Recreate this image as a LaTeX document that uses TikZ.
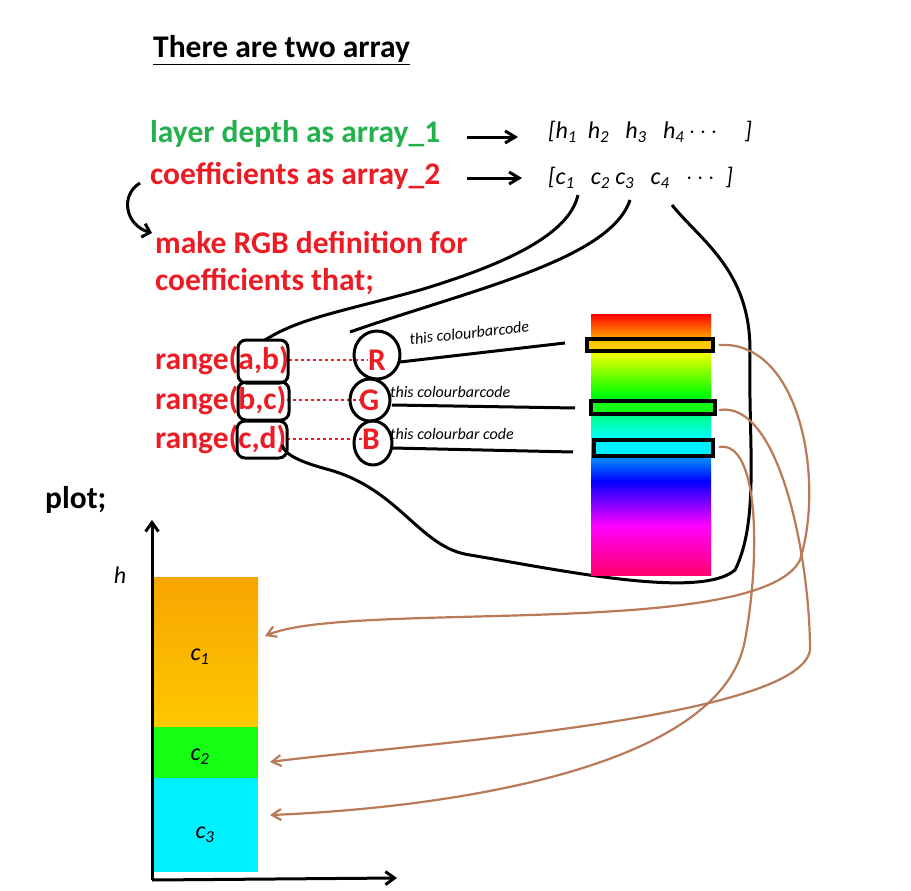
\documentclass[tikz,border=0pt]{standalone}
\usepackage{fontspec}
\setmainfont{Carlito}
\usetikzlibrary{arrows.meta}
\definecolor{gr}{RGB}{34,177,76}
\definecolor{rd}{RGB}{237,28,36}
\definecolor{br}{RGB}{185,122,87}
\definecolor{rpink}{RGB}{255,0,110}
\definecolor{mag}{RGB}{255,0,255}
\definecolor{bl}{RGB}{0,0,255}
\definecolor{cy}{RGB}{0,255,255}
\definecolor{gc}{RGB}{0,255,128}
\definecolor{gg}{RGB}{0,255,0}
\definecolor{ye}{RGB}{255,255,0}
\definecolor{re}{RGB}{255,0,0}
\definecolor{og1}{RGB}{255,200,0}
\definecolor{og2}{RGB}{247,165,0}
\definecolor{barg}{RGB}{20,255,20}
\definecolor{barc}{RGB}{0,240,255}
\pgfdeclareverticalshading{rainbow}{100bp}{
 color(0bp)=(rpink);
 color(25bp)=(rpink);
 color(34.5bp)=(mag);
 color(43bp)=(bl);
 color(51bp)=(cy);
 color(56bp)=(gc);
 color(59.5bp)=(gg);
 color(68bp)=(ye);
 color(75bp)=(re);
 color(100bp)=(re)}
\pgfdeclareverticalshading{orng}{100bp}{color(0bp)=(og1);color(25bp)=(og1);color(75bp)=(og2);color(100bp)=(og2)}
\tikzset{
 big/.style={font=\bfseries\fontsize{31.5}{34}\selectfont, anchor=west, inner sep=0},
 hand/.style={font=\itshape\fontsize{24}{26}\selectfont, inner sep=0},
 small/.style={font=\itshape\fontsize{16}{18}\selectfont, inner sep=0},
 pen/.style={line width=3pt, black},
 brown/.style={line width=2.2pt, br, -{Straight Barb[length=9pt,width=11pt]}},
 thk/.style={line width=3pt,-{Straight Barb[length=10pt,width=12pt]}}
}
\begin{document}
\begin{tikzpicture}[x=1pt,y=-1pt]
\useasboundingbox (0,0) rectangle (911,891);
\fill[white] (0,0) rectangle (911,891);
\node[big] (title) at (153,50) {\underline{There are two array}};
\node[big,text=gr] (a1) at (150,134) {layer depth as array\_1};
\node[big,text=rd] (a2) at (150,176) {coefficients as array\_2};
\coordinate (p1) at (467,137); \coordinate (q1) at (518,137);
\coordinate (p2) at (467,178); \coordinate (q2) at (522,178);
\draw[thk] (p1) -- (q1); \draw[thk] (p2) -- (q2);
\node[hand,anchor=west] (h) at (548,132) {[h\textsubscript{1}\ \ h\textsubscript{2}\ \ \ h\textsubscript{3}\ \ \ h\textsubscript{4}$\,\cdots$\ \ \ \ \ ]};
\node[hand,anchor=west] (c) at (548,178) {[c\textsubscript{1}\ \ \ c\textsubscript{2}\ c\textsubscript{3}\ \ \ c\textsubscript{4}\ \ \ $\cdots$\ \ ]};
\coordinate (ca) at (140,183); \coordinate (cb) at (152,233);
\draw[pen,-{Straight Barb[length=7pt]}] (ca) .. controls (120,195) and (125,225) .. (cb);
\node[big,text=rd] (m1) at (155,243) {make RGB definition for};
\node[big,text=rd] (m2) at (155,282) {coefficients that;};
\node[big,text=rd] (rA) at (155,360) {range(a,b)};
\node[big,text=rd] (rB) at (155,400) {range(b,c)};
\node[big,text=rd] (rC) at (155,439) {range(c,d)};
\node[big,text=rd] (R) at (368,360) {R};
\node[big,text=rd] (G) at (359,400) {G};
\node[big,text=rd] (B) at (362,439) {B};
\draw[rd,dashed,line width=1.6pt] (rA.east) -- (R.west);
\draw[rd,dashed,line width=1.6pt] (rB.east) -- (G.west);
\draw[rd,dashed,line width=1.6pt] (rC.east) -- (B.west);
\draw[pen,rounded corners=8pt] (238,340) rectangle (288,383);
\draw[pen,rounded corners=8pt] (238,382) rectangle (289,420);
\draw[pen,rounded corners=8pt] (237,421) rectangle (287,458);
\draw[pen] (377,355) ellipse (23 and 24);
\draw[pen] (370,400) ellipse (20 and 21);
\draw[pen] (373,443) ellipse (19 and 22);
% big blob
\draw[pen] (578,195) .. controls (570,230) and (520,260) .. (420,290) .. controls (340,312) and (300,318) .. (265,340);
\draw[pen] (630,200) .. controls (610,260) and (470,290) .. (350,332);
\draw[pen] (672,205) .. controls (700,240) and (750,270) .. (750,350) .. controls (748,440) and (760,520) .. (735,570) .. controls (700,600) and (560,570) .. (470,555) .. controls (420,548) and (400,490) .. (330,470) .. controls (300,462) and (285,455) .. (282,445);
% colour bar
\shade[shading=rainbow] (591,314) rectangle (711,575);
\coordinate (k1) at (565,343); \coordinate (k2) at (575,408); \coordinate (k3) at (573,452);
\draw[pen] (400,362) -- (k1); \draw[pen] (392,405) -- (k2); \draw[pen] (392,448) -- (k3);
\draw[line width=3.4pt,fill=og1] (587,339) rectangle (713,351);
\draw[line width=3.4pt,fill=barg] (591,401) rectangle (715,414);
\draw[line width=3.4pt,fill=barc] (594,440) rectangle (713,456);
\node[small,rotate=6,anchor=south west] (t1) at (410,345) {this colourbarcode};
\node[small,anchor=south west] (t2) at (390,398) {this colourbarcode};
\node[small,anchor=south west] (t3) at (390,440) {this colourbar code};
% plot
\node[big] (plot) at (45,500) {plot;};
\shade[shading=orng] (153,577) rectangle (258,727);
\fill[barg] (153,727) rectangle (258,778);
\fill[barc] (153,778) rectangle (258,872);
\coordinate (o) at (152,880); \coordinate (yt) at (152,520); \coordinate (xt) at (397,878);
\draw[line width=3pt,-{Straight Barb[length=9pt,width=13pt]}] (o) -- (yt);
\draw[line width=3pt,-{Straight Barb[length=9pt,width=13pt]}] (o) -- (xt);
\node[hand] (hl) at (120,575) {h};
\node[hand] (l1) at (200,657) {c\textsubscript{1}};
\node[hand] (l2) at (200,757) {c\textsubscript{2}};
\node[hand] (l3) at (205,835) {c\textsubscript{3}};
% brown arrows
\coordinate (b1) at (719,345); \coordinate (e1) at (265,636);
\coordinate (b2) at (719,410); \coordinate (e2) at (270,762);
\coordinate (b3) at (719,447); \coordinate (e3) at (270,815);
\draw[brown] (b1) .. controls (800,340) and (825,480) .. (800,560) .. controls (760,640) and (350,600) .. (e1);
\draw[brown] (b2) .. controls (780,400) and (810,560) .. (810,650) .. controls (800,720) and (400,745) .. (e2);
\draw[brown] (b3) .. controls (760,440) and (760,560) .. (745,640) .. controls (720,780) and (400,810) .. (e3);
\end{tikzpicture}
\end{document}
